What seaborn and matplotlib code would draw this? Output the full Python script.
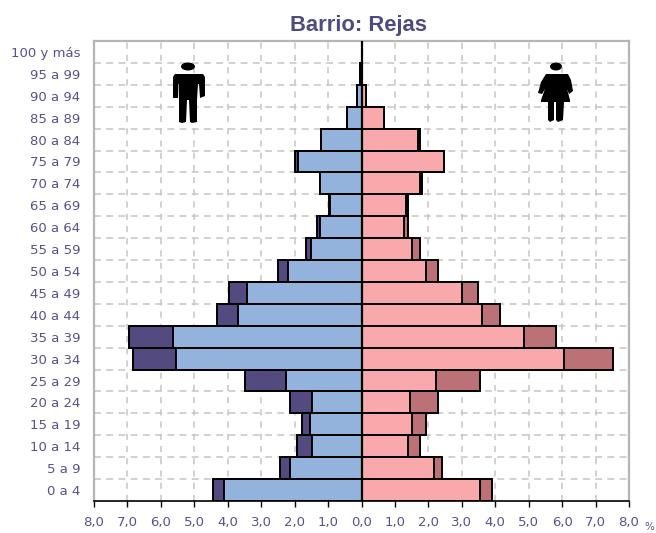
import numpy as np
import pandas as pd
import matplotlib.pyplot as plt
import seaborn as sns
from matplotlib.patches import Polygon, Ellipse

# Data (% of population)
edades = ['100 y más', '95 a 99', '90 a 94', '85 a 89', '80 a 84', '75 a 79', '70 a 74',
          '65 a 69', '60 a 64', '55 a 59', '50 a 54', '45 a 49', '40 a 44', '35 a 39',
          '30 a 34', '25 a 29', '20 a 24', '15 a 19', '10 a 14', '5 a 9', '0 a 4']
hombres_interior = [0.0, 0.04, 0.12, 0.42, 1.2, 1.9, 1.25, 0.94, 1.24, 1.5, 2.2, 3.41, 3.7,
                    5.63, 5.56, 2.26, 1.49, 1.55, 1.49, 2.14, 4.11]
hombres_total = [0.0, 0.04, 0.12, 0.42, 1.2, 1.98, 1.25, 0.97, 1.32, 1.66, 2.51, 3.96, 4.31,
                 6.95, 6.84, 3.47, 2.15, 1.78, 1.92, 2.45, 4.44]
mujeres_interior = [0.0, 0.02, 0.13, 0.66, 1.68, 2.47, 1.75, 1.33, 1.27, 1.51, 1.93, 3.0, 3.61,
                    4.86, 6.07, 2.24, 1.45, 1.5, 1.39, 2.17, 3.54]
mujeres_total = [0.0, 0.02, 0.13, 0.66, 1.75, 2.47, 1.81, 1.39, 1.39, 1.74, 2.29, 3.48, 4.14,
                 5.83, 7.51, 3.54, 2.29, 1.93, 1.74, 2.41, 3.91]
x_ticks = [-8, -7, -6, -5, -4, -3, -2, -1, 0, 1, 2, 3, 4, 5, 6, 7, 8]
x_labels = ['8,0', '7,0', '6,0', '5,0', '4,0', '3,0', '2,0', '1,0', '0,0',
            '1,0', '2,0', '3,0', '4,0', '5,0', '6,0', '7,0', '8,0']

W, H = 656, 533
TEXT = '#57528a'
GRID = '#c9c3be'
FRAME = '#b9b4b0'

sns.set_theme(style='white')
plt.rcParams['font.family'] = 'DejaVu Sans'

df = pd.DataFrame({
    'edad': edades,
    'h_int': -np.array(hombres_interior),
    'h_tot': -np.array(hombres_total),
    'm_int': mujeres_interior,
    'm_tot': mujeres_total,
})

fig = plt.figure(figsize=(W / 100, H / 100), dpi=100)
ax = fig.add_axes([94 / W, 1 - 501 / H, (629 - 94) / W, (501 - 41) / H])

# outer bars first, inner bars on top
capas = [('h_tot', '#534a80'), ('h_int', '#94b3dc'), ('m_tot', '#bb7175'), ('m_int', '#f9a9ab')]
for col, color in capas:
    sns.barplot(data=df, x=col, y='edad', order=edades, orient='h', color=color, width=1,
                edgecolor='black', linewidth=1.4, saturation=1, errorbar=None, ax=ax, zorder=3)

ax.set_xlim(-8, 8)
ax.set_ylim(len(edades) - 0.5, -0.5)
ax.set_xlabel('')
ax.set_ylabel('')
ax.set_xticks(x_ticks)
ax.set_xticklabels(x_labels, fontsize=9.5, color=TEXT)
ax.tick_params(axis='x', length=4, width=1, color='black', pad=7, bottom=True)
ax.tick_params(axis='y', length=0, pad=10, labelsize=9.5, labelcolor=TEXT)
for lab in ax.get_yticklabels():
    lab.set_va('center_baseline')

# dashed grid, horizontal lines fall between the age groups
for x in x_ticks[1:-1]:
    ax.axvline(x, color=GRID, linestyle=(0, (4, 4)), linewidth=1.1, zorder=1)
for y in np.arange(len(edades) - 1) + 0.5:
    ax.axhline(y, color=GRID, linestyle=(0, (4.5, 3.5)), linewidth=1.1, zorder=1)

ax.axvline(0, color='black', linewidth=1.6, zorder=5)
for lado in ['left', 'right', 'top']:
    ax.spines[lado].set_color(FRAME)
    ax.spines[lado].set_linewidth(1.6)
ax.spines['bottom'].set_color('black')
ax.spines['bottom'].set_linewidth(1.2)

fig.text(359 / W, 1 - 25 / H, 'Barrio: Rejas', ha='center', va='center', fontsize=15.8,
         fontweight='bold', color='#4f4a80', family='Liberation Sans')
fig.text(649 / W, 1 - 527 / H, '%', ha='center', va='center', fontsize=7.5, color=TEXT)


# little man and woman icons, given in pixels of the figure
def pixel_poly(puntos):
    pts = [(x / W, 1 - y / H) for x, y in puntos]
    fig.add_artist(Polygon(pts, closed=True, facecolor='black', edgecolor='none',
                           transform=fig.transFigure, zorder=6))


def pixel_head(x, y, w, h):
    fig.add_artist(Ellipse((x / W, 1 - y / H), w / W, h / H, facecolor='black', edgecolor='none',
                           transform=fig.transFigure, zorder=6))


pixel_head(188, 66.5, 14, 8)
pixel_poly([(175, 74), (203, 74), (205, 77), (205, 96), (200, 98), (199, 84), (198, 84), (197, 100),
            (197, 122), (192, 123), (190, 122), (189, 100), (187, 100), (186, 122), (182, 123),
            (179, 122), (179, 100), (178.5, 84), (178, 84), (178, 98), (173, 98), (173, 77)])

pixel_head(556, 66.5, 12, 8)
pixel_poly([(546, 74), (568, 74), (571, 80), (573, 91), (569, 94), (567, 89), (570, 100),
            (570, 102), (564, 102), (563, 120), (558, 122), (556, 120), (556, 102), (554, 102),
            (554, 120), (550, 122), (548, 120), (548, 102), (541, 102), (541, 100), (545, 89),
            (542, 94), (538, 93), (541, 82)])

plt.savefig('out.png', dpi=100)
